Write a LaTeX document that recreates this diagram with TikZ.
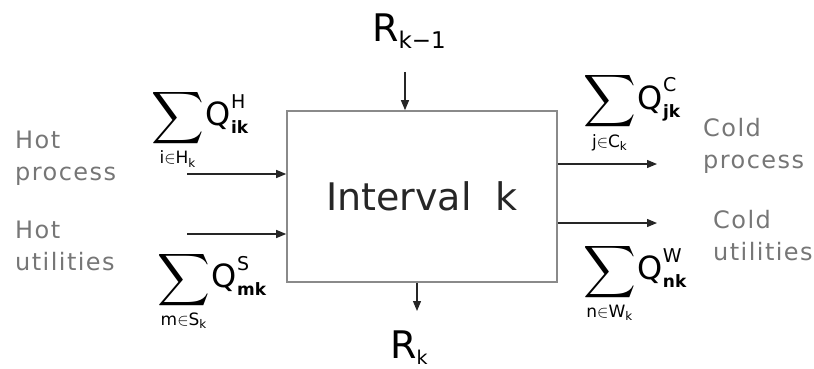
\RequirePackage{fix-cm}
\documentclass[tikz,border=0pt]{standalone}
\usepackage{amsmath}
\usepackage{graphicx}
\usepackage{fontspec}
\setmainfont{DejaVu Sans}
\newfontfamily\lblfont[LetterSpace=6]{DejaVu Sans}
\usetikzlibrary{arrows.meta}
\definecolor{lblc}{HTML}{767676}
\definecolor{boxc}{HTML}{8A8A8A}
\newcommand{\bigsum}{\mathop{\vcenter{\hbox{\scalebox{1.47}{$\displaystyle\sum$}}}}\limits}
\newcommand{\qsupx}[1]{\hbox{\fontsize{19}{19}\selectfont #1}}
\newcommand{\qsubx}[1]{\hbox{\fontsize{17}{17}\selectfont\bfseries #1}}
\newcommand{\lims}[1]{\hbox{\fontsize{17}{17}\selectfont #1}}
\begin{document}
\begin{tikzpicture}[x=1pt,y=-1pt,
  lbl/.style={font=\lblfont\fontsize{24}{32}\selectfont, text=lblc, align=left, anchor=base west, inner sep=0pt},
  sumlbl/.style={font=\fontsize{32}{36}\selectfont, inner sep=0pt},
  rlbl/.style={font=\fontsize{38}{40}\selectfont, inner sep=0pt, anchor=base west},
  arr/.style={-{Triangle[length=10pt,width=8pt]}, line width=1.2pt, draw=black!85}]
\useasboundingbox (0,0) rectangle (814,369);
\node[draw=boxc, line width=1.6pt, minimum width=270pt, minimum height=171pt, inner sep=0pt,
      font=\fontsize{38}{40}\selectfont, text=black!85] (box) at (422,196.5) {Interval\ \ k};
% outside labels (base = last line)
\node[lbl] (hp) at (15,180) {Hot\\process};
\node[lbl] (hu) at (15,270) {Hot\\utilities};
\node[lbl] (cp) at (703,168) {Cold\\process};
\node[lbl] (cu) at (713,260) {Cold\\utilities};
% R labels
\node[rlbl] (rk1) at (372,42) {R\raisebox{-7pt}{\fontsize{23}{23}\selectfont k−1}};
\node[rlbl] (rk) at (390,358) {R\raisebox{-6pt}{\fontsize{19}{19}\selectfont k}};
% sums
\node[sumlbl] (qh) at (200,129) {$\bigsum_{\lims{i$\in$H$_{\mathrm{k}}$}}\mkern-2mu\mathrm{Q}^{\qsupx{H}}_{\qsubx{ik}}$};
\node[sumlbl] (qs) at (212,291) {$\bigsum_{\lims{m$\in$S$_{\mathrm{k}}$}}\mkern-2mu\mathrm{Q}^{\qsupx{S}}_{\qsubx{mk}}$};
\node[sumlbl] (qc) at (632,113) {$\bigsum_{\lims{j$\in$C$_{\mathrm{k}}$}}\mkern-2mu\mathrm{Q}^{\qsupx{C}}_{\qsubx{jk}}$};
\node[sumlbl] (qw) at (635,283) {$\bigsum_{\lims{n$\in$W$_{\mathrm{k}}$}}\mkern-2mu\mathrm{Q}^{\qsupx{W}}_{\qsubx{nk}}$};
% arrow free ends
\coordinate (ahp) at (187,174);
\coordinate (ahu) at (187,234);
\coordinate (acp) at (657,164);
\coordinate (acu) at (657,223);
\coordinate (art) at (405,72);
\coordinate (arb) at (417,311);
\draw[arr] (ahp) -- (ahp -| box.west);
\draw[arr] (ahu) -- (ahu -| box.west);
\draw[arr] (acp -| box.east) -- (acp);
\draw[arr] (acu -| box.east) -- (acu);
\draw[arr] (art) -- (art |- box.north);
\draw[arr] (arb |- box.south) -- (arb);
\end{tikzpicture}
\end{document}
